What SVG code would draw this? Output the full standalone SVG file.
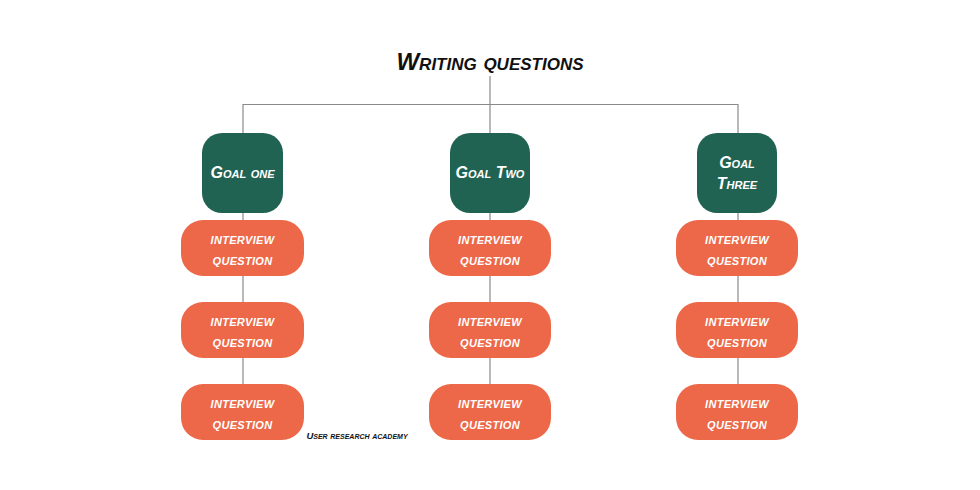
<svg xmlns="http://www.w3.org/2000/svg" width="980" height="490" viewBox="0 0 980 490">
<style>
.goal rect{fill:#216352;}
.q rect{fill:#EC6848;}
text{font-family:"Liberation Sans",Arial,sans-serif;font-weight:bold;font-style:italic;font-variant:small-caps;text-anchor:middle;}
.gt{fill:#fff;font-size:16px;}
.qt{fill:#fff;font-size:16px;letter-spacing:0.3px;}
.conn line{stroke:#8a8a8a;stroke-width:1.2;}
</style>
<rect width="980" height="490" fill="#fff"/>
<g id="connectors" class="conn">
<line x1="490" y1="76" x2="490" y2="134"/>
<line x1="243" y1="104.5" x2="738" y2="104.5"/>
<line x1="243" y1="104" x2="243" y2="134"/>
<line x1="738" y1="104" x2="738" y2="134"/>
<line x1="243" y1="212" x2="243" y2="386"/>
<line x1="490" y1="212" x2="490" y2="386"/>
<line x1="738" y1="212" x2="738" y2="386"/>
</g>
<g id="title"><text x="490" y="70" style="font-size:24px;fill:#111;">Writing questions</text></g>
<g id="goal1" class="goal"><rect x="202" y="133" width="81" height="80" rx="20"/><text class="gt" x="242.5" y="178">Goal one</text></g>
<g id="goal2" class="goal"><rect x="450" y="133" width="80" height="80" rx="20"/><text class="gt" x="490" y="178">Goal Two</text></g>
<g id="goal3" class="goal"><rect x="697" y="133" width="80" height="80" rx="20"/><text class="gt" x="737" y="168">Goal</text><text class="gt" x="737" y="189">Three</text></g>
<g id="q1a" class="q"><rect x="181" y="220" width="123" height="56" rx="22"/><text class="qt" x="242.5" y="244">interview</text><text class="qt" x="242.5" y="265">question</text></g>
<g id="q1b" class="q"><rect x="181" y="302" width="123" height="56" rx="22"/><text class="qt" x="242.5" y="326">interview</text><text class="qt" x="242.5" y="347">question</text></g>
<g id="q1c" class="q"><rect x="181" y="384" width="123" height="56" rx="22"/><text class="qt" x="242.5" y="408">interview</text><text class="qt" x="242.5" y="429">question</text></g>
<g id="q2a" class="q"><rect x="429" y="220" width="122" height="56" rx="22"/><text class="qt" x="490" y="244">interview</text><text class="qt" x="490" y="265">question</text></g>
<g id="q2b" class="q"><rect x="429" y="302" width="122" height="56" rx="22"/><text class="qt" x="490" y="326">interview</text><text class="qt" x="490" y="347">question</text></g>
<g id="q2c" class="q"><rect x="429" y="384" width="122" height="56" rx="22"/><text class="qt" x="490" y="408">interview</text><text class="qt" x="490" y="429">question</text></g>
<g id="q3a" class="q"><rect x="676" y="220" width="122" height="56" rx="22"/><text class="qt" x="737" y="244">interview</text><text class="qt" x="737" y="265">question</text></g>
<g id="q3b" class="q"><rect x="676" y="302" width="122" height="56" rx="22"/><text class="qt" x="737" y="326">interview</text><text class="qt" x="737" y="347">question</text></g>
<g id="q3c" class="q"><rect x="676" y="384" width="122" height="56" rx="22"/><text class="qt" x="737" y="408">interview</text><text class="qt" x="737" y="429">question</text></g>
<g id="credit"><text x="357" y="439" style="font-size:9.5px;fill:#111;">User research academy</text></g>
</svg>
